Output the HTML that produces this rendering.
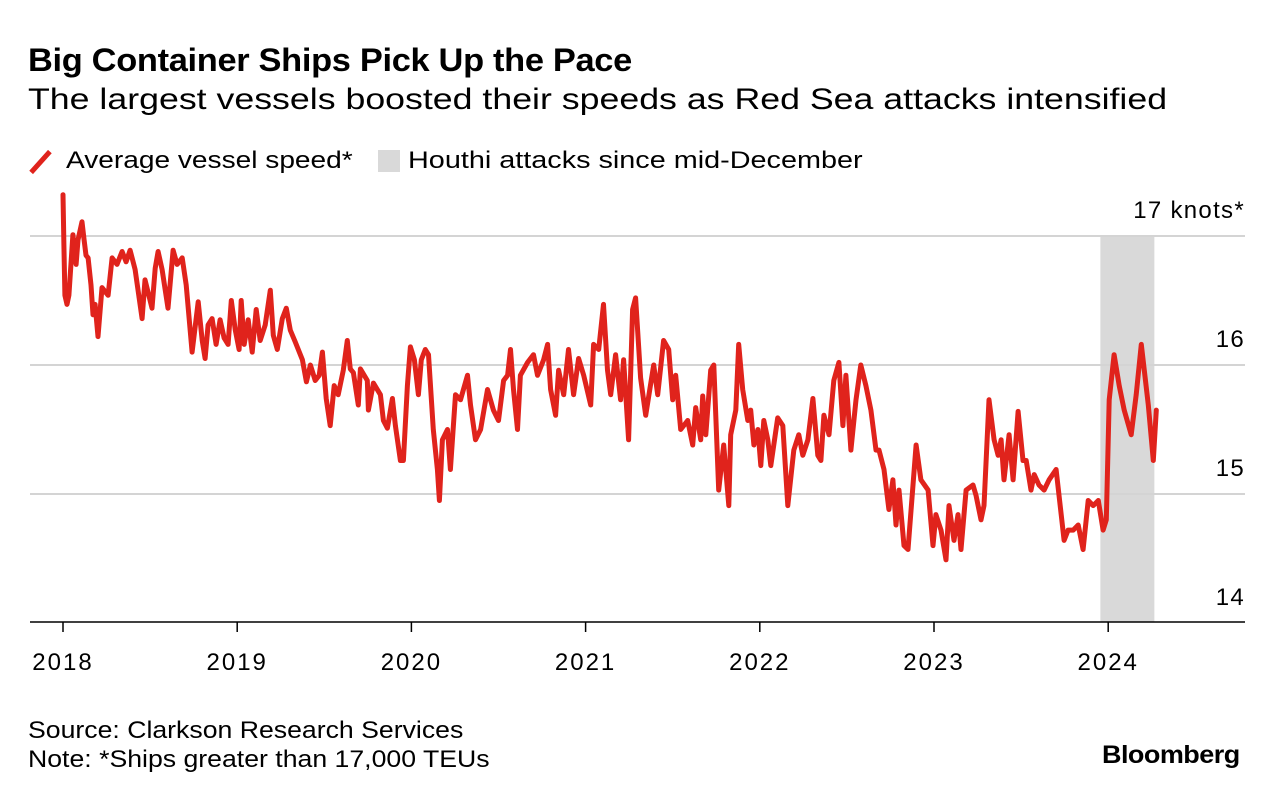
<!DOCTYPE html>
<html><head><meta charset="utf-8">
<style>
html,body{margin:0;padding:0;background:#fff;}
body{width:1280px;height:800px;overflow:hidden;font-family:"Liberation Sans",sans-serif;color:#000;position:relative;}
.t{position:absolute;white-space:nowrap;transform-origin:0 0;}
</style></head>
<body>
<div class="t" style="left:28px;top:42px;font-size:32px;font-weight:bold;letter-spacing:-0.3px;transform:scaleX(1.075);">Big Container Ships Pick Up the Pace</div>
<div class="t" style="left:28px;top:83px;font-size:30px;transform:scaleX(1.19);">The largest vessels boosted their speeds as Red Sea attacks intensified</div>
<span class="t" style="left:38px;top:148px;width:5px;height:28px;background:#e0231c;transform-origin:50% 50%;transform:rotate(42deg);"></span>
<div class="t" style="left:66px;top:147px;font-size:24px;transform:scaleX(1.17);">Average vessel speed*</div>
<span class="t" style="left:378px;top:150px;width:22px;height:22px;background:#d9d9d9;"></span>
<div class="t" style="left:408px;top:147px;font-size:24px;transform:scaleX(1.2);">Houthi attacks since mid-December</div>
<svg id="chart" width="1280" height="800" style="position:absolute;left:0;top:0;"></svg>
<div class="t" style="left:28px;top:717px;font-size:24px;transform:scaleX(1.11);">Source: Clarkson Research Services</div>
<div class="t" style="left:28px;top:746px;font-size:24px;transform:scaleX(1.11);">Note: *Ships greater than 17,000 TEUs</div>
<div class="t" style="left:1102px;top:741px;font-size:25px;font-weight:bold;letter-spacing:-0.5px;transform:scaleX(1.08);">Bloomberg</div>
<script>
const dates=[2018.00,2018.005,2018.011,2018.023,2018.034,2018.057,2018.075,2018.086,2018.109,2018.121,2018.132,2018.144,2018.161,2018.172,2018.184,2018.201,2018.224,2018.259,2018.282,2018.310,2018.339,2018.362,2018.385,2018.414,2018.454,2018.471,2018.511,2018.529,2018.546,2018.569,2018.603,2018.632,2018.655,2018.684,2018.707,2018.741,2018.776,2018.799,2018.816,2018.833,2018.856,2018.879,2018.902,2018.925,2018.948,2018.966,2018.989,2019.011,2019.023,2019.040,2019.063,2019.086,2019.109,2019.132,2019.161,2019.190,2019.207,2019.230,2019.259,2019.282,2019.305,2019.333,2019.374,2019.397,2019.420,2019.448,2019.471,2019.489,2019.511,2019.534,2019.557,2019.580,2019.609,2019.632,2019.649,2019.667,2019.695,2019.707,2019.747,2019.753,2019.782,2019.822,2019.839,2019.862,2019.891,2019.908,2019.937,2019.954,2019.977,2019.994,2020.017,2020.040,2020.057,2020.080,2020.098,2020.126,2020.149,2020.161,2020.178,2020.207,2020.224,2020.253,2020.282,2020.322,2020.339,2020.368,2020.397,2020.437,2020.471,2020.500,2020.529,2020.552,2020.569,2020.586,2020.609,2020.626,2020.667,2020.701,2020.724,2020.759,2020.782,2020.799,2020.828,2020.845,2020.874,2020.902,2020.931,2020.960,2020.989,2021.029,2021.046,2021.075,2021.103,2021.126,2021.144,2021.172,2021.201,2021.218,2021.247,2021.270,2021.287,2021.316,2021.345,2021.374,2021.391,2021.414,2021.448,2021.477,2021.500,2021.517,2021.546,2021.586,2021.615,2021.632,2021.661,2021.672,2021.690,2021.718,2021.736,2021.764,2021.793,2021.822,2021.833,2021.862,2021.879,2021.902,2021.931,2021.948,2021.966,2021.989,2022.006,2022.023,2022.046,2022.063,2022.103,2022.132,2022.161,2022.195,2022.224,2022.247,2022.276,2022.305,2022.333,2022.351,2022.368,2022.397,2022.425,2022.454,2022.477,2022.494,2022.523,2022.552,2022.580,2022.609,2022.638,2022.667,2022.684,2022.713,2022.741,2022.764,2022.782,2022.799,2022.828,2022.851,2022.897,2022.925,2022.966,2022.994,2023.011,2023.040,2023.069,2023.086,2023.115,2023.138,2023.155,2023.184,2023.224,2023.241,2023.270,2023.287,2023.316,2023.345,2023.368,2023.385,2023.402,2023.431,2023.454,2023.483,2023.511,2023.529,2023.557,2023.575,2023.603,2023.632,2023.661,2023.701,2023.730,2023.747,2023.770,2023.799,2023.828,2023.856,2023.885,2023.914,2023.943,2023.971,2023.989,2024.006,2024.034,2024.063,2024.092,2024.132,2024.161,2024.190,2024.230,2024.259,2024.276];
const speeds=[17.32,16.93,16.54,16.47,16.54,17.01,16.78,16.97,17.11,16.97,16.85,16.83,16.62,16.39,16.47,16.22,16.60,16.54,16.83,16.78,16.88,16.80,16.89,16.74,16.36,16.66,16.44,16.75,16.88,16.74,16.44,16.89,16.78,16.83,16.62,16.10,16.49,16.19,16.05,16.31,16.36,16.16,16.35,16.21,16.16,16.50,16.27,16.12,16.50,16.16,16.35,16.10,16.43,16.19,16.31,16.58,16.23,16.12,16.36,16.44,16.27,16.18,16.04,15.87,16.00,15.88,15.92,16.10,15.74,15.53,15.84,15.77,15.96,16.19,15.97,15.94,15.69,15.97,15.88,15.65,15.86,15.77,15.57,15.51,15.74,15.53,15.26,15.26,15.84,16.14,16.04,15.77,16.04,16.12,16.08,15.50,15.19,14.95,15.42,15.50,15.19,15.77,15.73,15.92,15.69,15.42,15.50,15.81,15.65,15.57,15.88,15.92,16.12,15.81,15.50,15.92,16.02,16.08,15.92,16.04,16.16,15.81,15.61,15.96,15.77,16.12,15.77,16.05,15.92,15.69,16.16,16.12,16.47,15.96,15.77,16.08,15.73,16.04,15.42,16.43,16.52,15.90,15.61,15.86,16.00,15.77,16.19,16.12,15.73,15.92,15.50,15.57,15.38,15.67,15.42,15.76,15.46,15.96,16.00,15.03,15.38,14.91,15.46,15.65,16.16,15.81,15.57,15.65,15.38,15.50,15.22,15.57,15.42,15.22,15.59,15.53,14.91,15.34,15.46,15.30,15.42,15.74,15.30,15.26,15.61,15.46,15.88,16.02,15.53,15.92,15.34,15.73,16.00,15.84,15.65,15.34,15.34,15.19,14.88,15.11,14.76,15.03,14.60,14.57,15.38,15.11,15.03,14.60,14.84,14.72,14.49,14.91,14.64,14.84,14.57,15.03,15.07,14.99,14.80,14.91,15.73,15.42,15.30,15.42,15.11,15.46,15.11,15.64,15.26,15.26,15.03,15.15,15.07,15.03,15.11,15.19,14.84,14.64,14.72,14.72,14.76,14.57,14.95,14.91,14.95,14.72,14.80,15.73,16.08,15.84,15.65,15.46,15.77,16.16,15.69,15.26,15.65];
const yTicks=[17,16,15,14];
const yTickLabels=["17 knots*","16","15","14"];
const xTicks=[2018,2019,2020,2021,2022,2023,2024];
const shadeRange=[2023.955,2024.265];

const svg=document.getElementById('chart');
const NS='http://www.w3.org/2000/svg';
const X0=63,XPY=174.2,Y17=236,PPK=129;
const xs=d=>X0+(d-2018)*XPY;
const ys=v=>Y17+(17-v)*PPK;
function mk(tag,attrs){const e=document.createElementNS(NS,tag);for(const k in attrs)e.setAttribute(k,attrs[k]);svg.appendChild(e);return e;}

const sh=mk('rect',{x:xs(shadeRange[0]),y:ys(17),width:xs(shadeRange[1])-xs(shadeRange[0]),height:622-ys(17),fill:'#d9d9d9'});



yTicks.forEach((v,i)=>{
  if(v>14){
    const g=mk('line',{x1:30,x2:1245,y1:ys(v),y2:ys(v),stroke:'#d4d4d4','stroke-width':2});
    
    
  }
  const t=mk('text',{x:1245,y:ys(v)-18,'text-anchor':'end','font-size':24,'letter-spacing':1.3,'font-family':'Liberation Sans, sans-serif',fill:'#000'});
  t.textContent=yTickLabels[i];
  
  
});

const base=mk('line',{x1:30,x2:1245,y1:622,y2:622,stroke:'#000','stroke-width':1.5});



xTicks.forEach(yr=>{
  const l=mk('line',{x1:xs(yr),x2:xs(yr),y1:622,y2:632,stroke:'#000','stroke-width':1.5});
  
  
  const t=mk('text',{x:xs(yr),y:670,'text-anchor':'middle','font-size':24,'letter-spacing':2,'font-family':'Liberation Sans, sans-serif',fill:'#000'});
  t.textContent=yr;
  
  
});

const pts=dates.map((d,i)=>xs(d).toFixed(1)+','+ys(speeds[i]).toFixed(1)).join(' ');
const pl=mk('polyline',{points:pts,fill:'none',stroke:'#e0231c','stroke-width':5,'stroke-linejoin':'round','stroke-linecap':'round'});


</script>
</body></html>
